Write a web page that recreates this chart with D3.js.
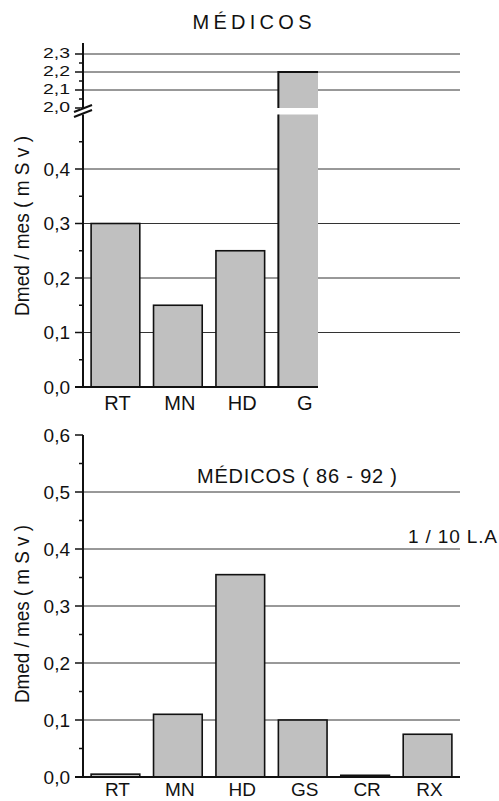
<!DOCTYPE html>
<html>
<head>
<meta charset="utf-8">
<script src="https://cdn.jsdelivr.net/npm/d3@7"></script>
<style>
  body { margin: 0; background: #fff; }
  text { font-family: "Liberation Sans", Arial, sans-serif; fill: #111; }
</style>
</head>
<body>
<script>
// data
var topCats = ["RT", "MN", "HD", "G"];
var topValues = [0.30, 0.15, 0.25, 2.2];
var bottomCats = ["RT", "MN", "HD", "GS", "CR", "RX"];
var bottomValues = [0.005, 0.11, 0.355, 0.10, 0.003, 0.075];

var topLowTicks = [0, 0.1, 0.2, 0.3, 0.4];
var topLowGrid = [0.1, 0.2, 0.3, 0.4];
var topHighTicks = [2.0, 2.1, 2.2, 2.3];
var topHighGrid = [2.1, 2.2, 2.3];
var bottomTicks = [0, 0.1, 0.2, 0.3, 0.4, 0.5, 0.6];
var bottomGrid = [0.1, 0.2, 0.3, 0.4, 0.5];

var fmt = function(v) { return d3.format(".1f")(v).replace(".", ","); };

var W = 499, H = 801;
var svg = d3.select("body").append("svg")
  .attr("width", W).attr("height", H);

var barFill = "#c0c0c0";
var axisX = 83, gridRight = 460, topClipRight = 318;

// shared band scale: 6 slots, top chart only uses first 4 and is cut at 318
var xScale = d3.scaleBand()
  .domain(d3.range(6))
  .range([axisX, gridRight])
  .paddingInner(0.22)
  .paddingOuter(0.13);

// ---------------- top chart ----------------
var yLow = d3.scaleLinear().domain([0, 0.5]).range([387, 114.5]);
var yHigh = d3.scaleLinear().domain([2.0, 2.3]).range([108, 54]);

var topG = svg.append("g");

svg.append("defs").append("clipPath").attr("id", "topclip")
  .append("rect").attr("x", 0).attr("y", 0).attr("width", topClipRight).attr("height", 400);

// gridlines
topG.selectAll(".gl").data(topLowGrid).enter().append("line")
  .attr("x1", axisX).attr("x2", gridRight)
  .attr("y1", function(d) { return yLow(d); }).attr("y2", function(d) { return yLow(d); })
  .attr("stroke", "#333").attr("stroke-width", 1);
topG.selectAll(".gh").data(topHighGrid).enter().append("line")
  .attr("x1", axisX).attr("x2", gridRight)
  .attr("y1", function(d) { return yHigh(d); }).attr("y2", function(d) { return yHigh(d); })
  .attr("stroke", "#333").attr("stroke-width", 1);

var topBars = topG.append("g").attr("clip-path", "url(#topclip)");
topValues.forEach(function(v, i) {
  var x0 = xScale(i), bw = xScale.bandwidth();
  if (v <= 0.5) {
    topBars.append("rect")
      .attr("x", x0).attr("y", yLow(v))
      .attr("width", bw).attr("height", yLow(0) - yLow(v))
      .attr("fill", barFill).attr("stroke", "#111").attr("stroke-width", 1.6);
  } else {
    // broken bar: lower part up to the break, upper part in the high scale
    topBars.append("rect")
      .attr("x", x0).attr("y", yLow(0.5))
      .attr("width", bw).attr("height", yLow(0) - yLow(0.5))
      .attr("fill", barFill);
    topBars.append("line")
      .attr("x1", x0).attr("x2", x0).attr("y1", yLow(0.5)).attr("y2", yLow(0))
      .attr("stroke", "#111").attr("stroke-width", 2);
    topBars.append("rect")
      .attr("x", x0).attr("y", yHigh(v))
      .attr("width", bw).attr("height", yHigh(2.0) - yHigh(v))
      .attr("fill", barFill);
    topBars.append("path")
      .attr("d", "M" + x0 + "," + yHigh(2.0) + "V" + yHigh(v) + "H" + (x0 + bw))
      .attr("fill", "none").attr("stroke", "#111").attr("stroke-width", 2);
  }
});

// x axis line (clipped)
topG.append("line")
  .attr("x1", 75).attr("x2", topClipRight)
  .attr("y1", yLow(0)).attr("y2", yLow(0))
  .attr("stroke", "#111").attr("stroke-width", 2);

// y axis, lower segment
var axLow = topG.append("g").attr("transform", "translate(" + axisX + ",0)");
axLow.append("line").attr("y1", yLow(0)).attr("y2", yLow(0.5))
  .attr("stroke", "#111").attr("stroke-width", 2);
axLow.selectAll(".tk").data(topLowTicks).enter().append("line")
  .attr("x1", -8).attr("x2", 0)
  .attr("y1", function(d) { return yLow(d); }).attr("y2", function(d) { return yLow(d); })
  .attr("stroke", "#111").attr("stroke-width", 1.5);
axLow.selectAll(".mk").data(topLowTicks.map(function(d) { return d + 0.05; })).enter().append("line")
  .attr("x1", -4).attr("x2", 0)
  .attr("y1", function(d) { return yLow(d); }).attr("y2", function(d) { return yLow(d); })
  .attr("stroke", "#111").attr("stroke-width", 1.5);
axLow.selectAll(".lb").data(topLowTicks).enter().append("text")
  .attr("x", -13).attr("y", function(d) { return yLow(d); })
  .attr("dy", "0.35em").attr("text-anchor", "end")
  .style("font-size", "19px").text(fmt);

// y axis, upper segment
var axHigh = topG.append("g").attr("transform", "translate(" + axisX + ",0)");
axHigh.append("line").attr("y1", yHigh(2.0)).attr("y2", 43)
  .attr("stroke", "#111").attr("stroke-width", 2);
axHigh.selectAll(".tk").data(topHighTicks).enter().append("line")
  .attr("x1", -8).attr("x2", 0)
  .attr("y1", function(d) { return yHigh(d); }).attr("y2", function(d) { return yHigh(d); })
  .attr("stroke", "#111").attr("stroke-width", 1.5);
axHigh.selectAll(".mk").data([2.05, 2.15, 2.25]).enter().append("line")
  .attr("x1", -4).attr("x2", 0)
  .attr("y1", function(d) { return yHigh(d); }).attr("y2", function(d) { return yHigh(d); })
  .attr("stroke", "#111").attr("stroke-width", 1.5);
axHigh.selectAll(".lb").data(topHighTicks).enter().append("text")
  .attr("x", -13).attr("y", function(d) { return yHigh(d) - 1; })
  .attr("dy", "0.35em").attr("text-anchor", "end")
  .attr("textLength", 27).attr("lengthAdjust", "spacingAndGlyphs")
  .style("font-size", "15px").text(fmt);

// break marks
topG.append("rect").attr("x", axisX - 3).attr("y", 108).attr("width", 6).attr("height", 6).attr("fill", "#fff");
topG.append("line").attr("x1", 74).attr("y1", 112).attr("x2", 92).attr("y2", 105)
  .attr("stroke", "#111").attr("stroke-width", 2);
topG.append("line").attr("x1", 74).attr("y1", 117).attr("x2", 92).attr("y2", 110)
  .attr("stroke", "#111").attr("stroke-width", 2);

// x labels
topG.selectAll(".xl").data(topCats).enter().append("text")
  .attr("x", function(d, i) { return xScale(i) + xScale.bandwidth() / 2 + 2; })
  .attr("y", 410).attr("text-anchor", "middle")
  .style("font-size", "20px").text(function(d) { return d; });

// title and y label
topG.append("text").attr("x", 252).attr("y", 29).attr("text-anchor", "middle")
  .attr("textLength", 119).attr("lengthAdjust", "spacing")
  .style("font-size", "20px").text("MÉDICOS");
topG.append("text").attr("transform", "translate(29,226) rotate(-90)")
  .attr("text-anchor", "middle")
  .attr("textLength", 180).attr("lengthAdjust", "spacingAndGlyphs")
  .style("font-size", "21px").text("Dmed / mes  ( m S v )");

// ---------------- bottom chart ----------------
var yB = d3.scaleLinear().domain([0, 0.6]).range([777, 435]);
var bot = svg.append("g");

bot.selectAll(".g").data(bottomGrid).enter().append("line")
  .attr("x1", axisX).attr("x2", gridRight)
  .attr("y1", function(d) { return yB(d); }).attr("y2", function(d) { return yB(d); })
  .attr("stroke", "#333").attr("stroke-width", 1);

bot.selectAll(".bar").data(bottomValues).enter().append("rect")
  .attr("x", function(d, i) { return xScale(i); })
  .attr("y", function(d) { return yB(d); })
  .attr("width", xScale.bandwidth())
  .attr("height", function(d) { return yB(0) - yB(d); })
  .attr("fill", barFill).attr("stroke", "#111").attr("stroke-width", 1.6);

bot.append("line")
  .attr("x1", 75).attr("x2", gridRight)
  .attr("y1", yB(0)).attr("y2", yB(0))
  .attr("stroke", "#111").attr("stroke-width", 2);

var axB = bot.append("g").attr("transform", "translate(" + axisX + ",0)");
axB.append("line").attr("y1", yB(0)).attr("y2", yB(0.6))
  .attr("stroke", "#111").attr("stroke-width", 2);
axB.selectAll(".tk").data(bottomTicks).enter().append("line")
  .attr("x1", -8).attr("x2", 0)
  .attr("y1", function(d) { return yB(d); }).attr("y2", function(d) { return yB(d); })
  .attr("stroke", "#111").attr("stroke-width", 1.5);
axB.selectAll(".mk").data(bottomTicks.slice(0, 6).map(function(d) { return d + 0.05; })).enter().append("line")
  .attr("x1", -4).attr("x2", 0)
  .attr("y1", function(d) { return yB(d); }).attr("y2", function(d) { return yB(d); })
  .attr("stroke", "#111").attr("stroke-width", 1.5);
axB.selectAll(".lb").data(bottomTicks).enter().append("text")
  .attr("x", -13).attr("y", function(d) { return yB(d); })
  .attr("dy", "0.35em").attr("text-anchor", "end")
  .style("font-size", "19px").text(fmt);

bot.selectAll(".xl").data(bottomCats).enter().append("text")
  .attr("x", function(d, i) { return xScale(i) + xScale.bandwidth() / 2 + 2; })
  .attr("y", 796).attr("text-anchor", "middle")
  .style("font-size", "19px").text(function(d) { return d; });

bot.append("text").attr("x", 297).attr("y", 483).attr("text-anchor", "middle")
  .attr("textLength", 200).attr("lengthAdjust", "spacing")
  .style("font-size", "20px").text("MÉDICOS ( 86 - 92 )");
bot.append("text").attr("x", 497).attr("y", 543).attr("text-anchor", "end")
  .attr("textLength", 89).attr("lengthAdjust", "spacing")
  .style("font-size", "19px").text("1 / 10  L.A");
bot.append("text").attr("transform", "translate(29,614) rotate(-90)")
  .attr("text-anchor", "middle")
  .attr("textLength", 178).attr("lengthAdjust", "spacingAndGlyphs")
  .style("font-size", "21px").text("Dmed / mes ( m S v )");
</script>
</body>
</html>
